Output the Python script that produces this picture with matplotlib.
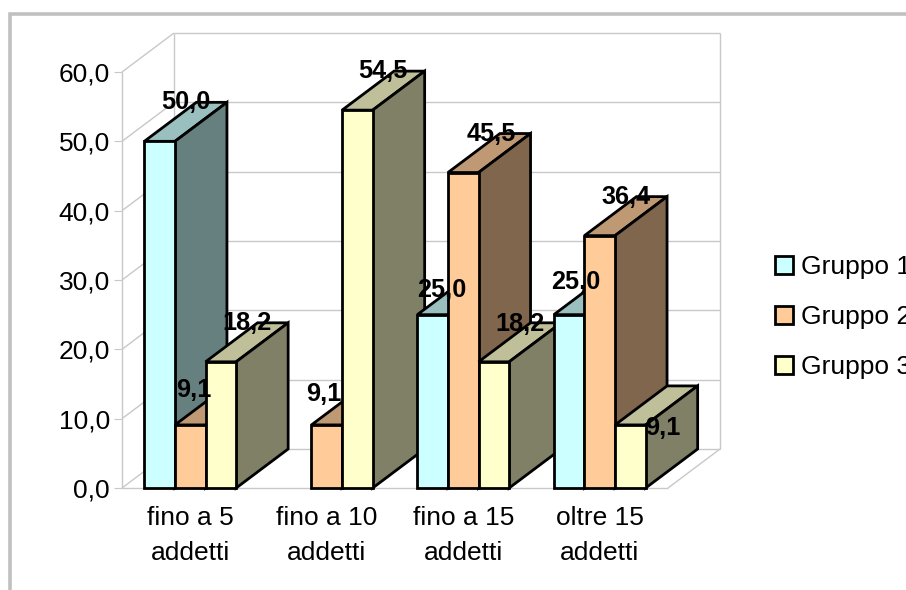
import matplotlib
matplotlib.use("Agg")
import matplotlib.pyplot as plt
from matplotlib.lines import Line2D
from matplotlib.patches import Polygon, Patch

plt.rcParams['font.family'] = ['Liberation Sans', 'DejaVu Sans']

categories = ["fino a 5\naddetti", "fino a 10\naddetti", "fino a 15\naddetti", "oltre 15\naddetti"]
series_names = ["Gruppo 1", "Gruppo 2", "Gruppo 3"]
gruppo1 = [50.0, 0.0, 25.0, 25.0]
gruppo2 = [9.1, 9.1, 45.5, 36.4]
gruppo3 = [18.2, 54.5, 18.2, 9.1]
y_ticks = [0, 10, 20, 30, 40, 50, 60]

front_colors = ["#CCFFFF", "#FFCC99", "#FFFFCC"]
top_colors = ["#99BFBF", "#BF9973", "#BFBF99"]
side_colors = ["#668080", "#80664D", "#808066"]
# label offsets from the front-top centre of each bar, in pixels
label_offsets = [
    [(26, 39), (4, 35), (26, 39)],
    [None, (-3, 31), (26, 39)],
    [(9, 25), (28, 39), (26, 38)],
    [(7, 33), (26, 39), (32, -3)],
]

W, H = 906, 590
fig = plt.figure(figsize=(W / 100, H / 100), dpi=100, facecolor="white")
ax = fig.add_axes([122 / W, (H - 488) / H, 546 / W, 416 / H])
ax.set_xlim(0, 4)
ax.set_ylim(0, 60)
ax.patch.set_visible(False)
for s in ax.spines.values():
    s.set_visible(False)

DX = 52 / 136.5      # depth in x data units
DY = 39 / (416 / 60)  # depth in y data units
BAR = 30.6 / 136.5
GRID = "#C8C8C8"

def wall(xs, ys):
    ax.plot(xs, ys, color=GRID, lw=1.0, clip_on=False, zorder=1, solid_capstyle="butt")

for v in y_ticks:
    if v > 0:
        wall([0, DX], [v, v + DY])
    wall([DX, 4 + DX], [v + DY, v + DY])
wall([0, 0], [0, 60])
wall([DX, DX], [DY, 60 + DY])
wall([4 + DX, 4 + DX], [DY, 60 + DY])
wall([0, DX], [0, DY])
wall([0, 4], [0, 0])
wall([4, 4 + DX], [0, DY])

series = [gruppo1, gruppo2, gruppo3]
for i in range(len(categories)):
    for j, vals in enumerate(series):
        v = vals[i]
        if v <= 0:
            continue
        x0 = i + 0.5 + (j - 1.5) * BAR
        x1 = x0 + BAR
        faces = [
            ([(x0, v), (x1, v), (x1 + DX, v + DY), (x0 + DX, v + DY)], top_colors[j]),
            ([(x1, 0), (x1 + DX, DY), (x1 + DX, v + DY), (x1, v)], side_colors[j]),
            ([(x0, 0), (x1, 0), (x1, v), (x0, v)], front_colors[j]),
        ]
        for pts, col in faces:
            ax.add_patch(Polygon(pts, closed=True, facecolor=col, edgecolor="black",
                                 lw=2.0, joinstyle="miter", clip_on=False, zorder=3))

for i in range(len(categories)):
    for j, vals in enumerate(series):
        off = label_offsets[i][j]
        if off is None:
            continue
        v = vals[i]
        x = i + 0.5 + (j - 1) * BAR
        ax.annotate(f"{v:.1f}".replace(".", ","), (x, v), xytext=off, textcoords="offset pixels",
                    ha="center", va="center", fontsize=18.2, fontweight="bold",
                    color="black", zorder=5, annotation_clip=False)

ax.set_yticks(y_ticks)
ax.set_yticklabels([f"{v:.1f}".replace(".", ",") for v in y_ticks], fontsize=19)
ax.tick_params(axis="y", length=5.8, width=0.8, color=GRID, pad=3)
ax.set_xticks([i + 0.5 for i in range(4)])
ax.set_xticklabels(categories, fontsize=19, linespacing=1.55)
ax.tick_params(axis="x", length=0, pad=13)

handles = [Patch(facecolor=c, edgecolor="black", lw=2.0) for c in front_colors]
fig.legend(handles, series_names, loc="upper left", bbox_to_anchor=(770 / W, 1 - 250 / H),
           frameon=False, fontsize=19, handlelength=0.66, handleheight=0.66,
           handletextpad=0.3, labelspacing=0.98, borderpad=0.2, borderaxespad=0)

fig.add_artist(Line2D([9.5 / W, 9.5 / W, 1], [0, 1 - 13.5 / H, 1 - 13.5 / H],
                      color="#C0C0C0", lw=2.6, solid_joinstyle="miter"))

fig.savefig("out.png", dpi=100)
